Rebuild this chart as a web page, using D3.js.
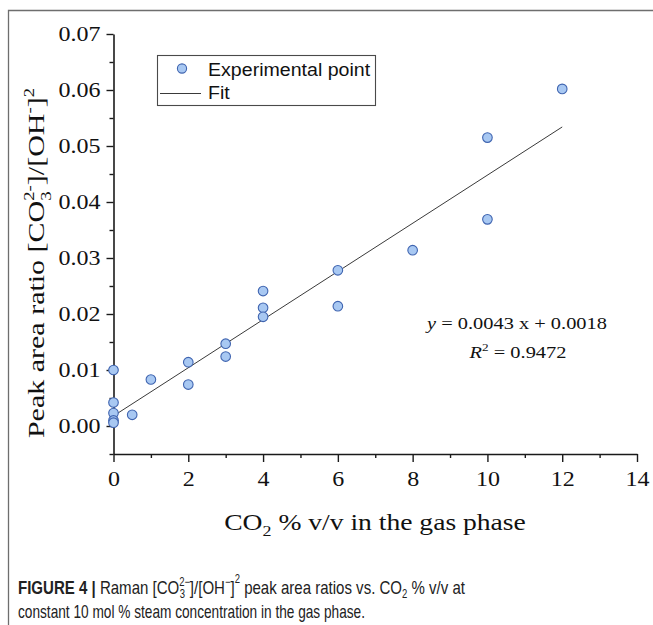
<!DOCTYPE html>
<html>
<head>
<meta charset="utf-8">
<script src="https://cdn.jsdelivr.net/npm/d3@7"></script>
<style>
  html, body { margin: 0; padding: 0; background: #fff; }
  svg { display: block; }
</style>
</head>
<body>
<script>
// CO2 concentration (% v/v) and measured peak area ratios
const co2Pct = [0, 0, 0, 0, 0, 0.5, 1, 2, 2, 3, 3, 4, 4, 4, 6, 6, 8, 10, 10, 12];
const peakRatio = [0.0100, 0.0042, 0.0023, 0.0010, 0.0006, 0.0020, 0.0083, 0.0114, 0.0074,
                   0.0147, 0.0124, 0.0241, 0.0211, 0.0195, 0.0278, 0.0214, 0.0314, 0.0515,
                   0.0369, 0.0602];
// linear fit y = slope * x + intercept
const fitSlope = 0.0043;
const fitIntercept = 0.0018;
const fitRange = [0, 12];
const fitR2 = "0.9472";

const xTicks = [0, 2, 4, 6, 8, 10, 12, 14];
const xMinor = [1, 3, 5, 7, 9, 11, 13];
const yTicks = [0.00, 0.01, 0.02, 0.03, 0.04, 0.05, 0.06, 0.07];
const yMinor = [-0.005, 0.005, 0.015, 0.025, 0.035, 0.045, 0.055, 0.065];

const W = 653, H = 625;
const SX = 1.2; // wide glyph setting used for the figure text

const svg = d3.select("body").append("svg").attr("width", W).attr("height", H);

// panel frame
svg.append("path")
  .attr("d", `M8.5,${H} L8.5,10.5 L${W},10.5`)
  .attr("fill", "none").attr("stroke", "#6e6e6e").attr("stroke-width", 1.3);

const x = d3.scaleLinear().domain([0, 14]).range([113.5, 637]);
const y = d3.scaleLinear().domain([-0.005, 0.07]).range([454, 34]);

const serif = "'Liberation Serif', 'Times New Roman', serif";
const sans = "'Liberation Sans', Arial, sans-serif";
const axisColor = "#1a1a1a";

// y axis: minor then major
const yMinorG = svg.append("g").attr("transform", `translate(${x(0)},0)`)
  .call(d3.axisLeft(y).tickValues(yMinor).tickSize(4).tickSizeOuter(0).tickFormat(""));
const yAxisG = svg.append("g").attr("transform", `translate(${x(0)},0)`)
  .call(d3.axisLeft(y).tickValues(yTicks).tickSize(7).tickSizeOuter(0).tickFormat(d3.format(".2f")));

// x axis
const xMinorG = svg.append("g").attr("transform", `translate(0,${y(-0.005)})`)
  .call(d3.axisBottom(x).tickValues(xMinor).tickSize(4).tickSizeOuter(0).tickFormat(""));
const xAxisG = svg.append("g").attr("transform", `translate(0,${y(-0.005)})`)
  .call(d3.axisBottom(x).tickValues(xTicks).tickSize(8).tickSizeOuter(0).tickFormat(d3.format("d")));

[yMinorG, yAxisG, xMinorG, xAxisG].forEach(g => {
  g.select(".domain").attr("stroke", axisColor).attr("stroke-width", 1.6);
  g.selectAll(".tick line").attr("stroke", axisColor).attr("stroke-width", 1.4);
});
yMinorG.select(".domain").remove();
xMinorG.select(".domain").remove();

yAxisG.selectAll(".tick text")
  .attr("x", null).attr("dy", "0.33em")
  .attr("transform", `translate(-13,0) scale(${SX},1)`)
  .attr("font-family", serif).attr("font-size", 20).attr("fill", "#111");
xAxisG.selectAll(".tick text")
  .attr("y", null).attr("dy", 0)
  .attr("transform", `translate(0,32) scale(${SX},1)`)
  .attr("font-family", serif).attr("font-size", 20).attr("fill", "#111");

// fit line
svg.append("line")
  .attr("x1", x(fitRange[0])).attr("y1", y(fitSlope * fitRange[0] + fitIntercept))
  .attr("x2", x(fitRange[1])).attr("y2", y(fitSlope * fitRange[1] + fitIntercept))
  .attr("stroke", "#3a3a3a").attr("stroke-width", 1);

// experimental points
svg.append("g").selectAll("circle")
  .data(co2Pct.map((c, i) => [c, peakRatio[i]]))
  .join("circle")
  .attr("cx", d => x(d[0])).attr("cy", d => y(d[1])).attr("r", 4.8)
  .attr("fill", "#a8c8f2").attr("stroke", "#3f64b0").attr("stroke-width", 1.1);

// legend
const leg = svg.append("g");
leg.append("rect").attr("x", 157.5).attr("y", 55.5).attr("width", 218).attr("height", 50)
  .attr("fill", "#fff").attr("stroke", "#4a4a4a").attr("stroke-width", 1.1);
leg.append("circle").attr("cx", 182).attr("cy", 68.5).attr("r", 4.6)
  .attr("fill", "#a8c8f2").attr("stroke", "#3f64b0").attr("stroke-width", 1.1);
leg.append("line").attr("x1", 160).attr("x2", 201).attr("y1", 93.5).attr("y2", 93.5)
  .attr("stroke", "#3a3a3a").attr("stroke-width", 1);
leg.append("text").attr("transform", `translate(208,76) scale(1.12,1)`)
  .attr("font-family", sans).attr("font-size", 17.5).attr("fill", "#111")
  .text("Experimental point");
leg.append("text").attr("transform", `translate(208,99) scale(1.12,1)`)
  .attr("font-family", sans).attr("font-size", 17.5).attr("fill", "#111")
  .text("Fit");

// fit equation
const eq1 = svg.append("text").attr("transform", `translate(517,329) scale(${SX},1)`)
  .attr("text-anchor", "middle").attr("font-family", serif).attr("font-size", 17).attr("fill", "#111");
eq1.append("tspan").attr("font-style", "italic").text("y");
eq1.append("tspan").text(` = ${fitSlope.toFixed(4)} x + ${fitIntercept.toFixed(4)}`);
const eq2 = svg.append("text").attr("transform", `translate(518,358) scale(${SX},1)`)
  .attr("text-anchor", "middle").attr("font-family", serif).attr("font-size", 17).attr("fill", "#111");
eq2.append("tspan").attr("font-style", "italic").text("R");
eq2.append("tspan").attr("font-size", 11).attr("dy", -7).text("2");
eq2.append("tspan").attr("dy", 7).text(` = ${fitR2}`);

// x axis title
const xt = svg.append("text").attr("transform", `translate(375,530) scale(${SX},1)`)
  .attr("text-anchor", "middle").attr("font-family", serif).attr("font-size", 23).attr("fill", "#111");
xt.append("tspan").text("CO");
xt.append("tspan").attr("font-size", 15).attr("dy", 6).text("2");
xt.append("tspan").attr("dy", -6).text(" % v/v in the gas phase");

// y axis title (stretched along its reading direction)
const yt = svg.append("text").attr("transform", `translate(44,263) rotate(-90) scale(1.25,1)`)
  .attr("text-anchor", "middle").attr("font-family", serif).attr("font-size", 24).attr("fill", "#111");
yt.append("tspan").text("Peak area ratio [CO");
yt.append("tspan").attr("font-size", 15).attr("dy", -10).text("2-");
yt.append("tspan").attr("font-size", 15).attr("dx", -12.5).attr("dy", 17).text("3");
yt.append("tspan").attr("dx", 5).attr("dy", -7).text("]/[OH");
yt.append("tspan").attr("font-size", 15).attr("dy", -10).text("-");
yt.append("tspan").attr("dy", 10).text("]");
yt.append("tspan").attr("font-size", 15).attr("dy", -10).text("2");

// caption
const cap1 = svg.append("text").attr("x", 18).attr("y", 594)
  .attr("font-family", sans).attr("font-size", 19).attr("fill", "#222")
  .attr("textLength", 447).attr("lengthAdjust", "spacingAndGlyphs");
cap1.append("tspan").attr("font-weight", "bold").text("FIGURE 4 |");
cap1.append("tspan").text(" Raman [CO");
cap1.append("tspan").attr("font-size", 12).attr("dy", -8).text("2−");
cap1.append("tspan").attr("font-size", 12).attr("dx", -13).attr("dy", 12).text("3");
cap1.append("tspan").attr("dx", 6).attr("dy", -4).text("]/[OH");
cap1.append("tspan").attr("font-size", 12).attr("dy", -8).text("−");
cap1.append("tspan").attr("dy", 8).text("]");
cap1.append("tspan").attr("font-size", 12).attr("dy", -11).text("2");
cap1.append("tspan").attr("dy", 11).text(" peak area ratios vs. CO");
cap1.append("tspan").attr("font-size", 12).attr("dy", 4).text("2");
cap1.append("tspan").attr("dy", -4).text(" % v/v at");

svg.append("text").attr("x", 18).attr("y", 618)
  .attr("font-family", sans).attr("font-size", 19).attr("fill", "#222")
  .attr("textLength", 347).attr("lengthAdjust", "spacingAndGlyphs")
  .text("constant 10 mol % steam concentration in the gas phase.");
</script>
</body>
</html>
